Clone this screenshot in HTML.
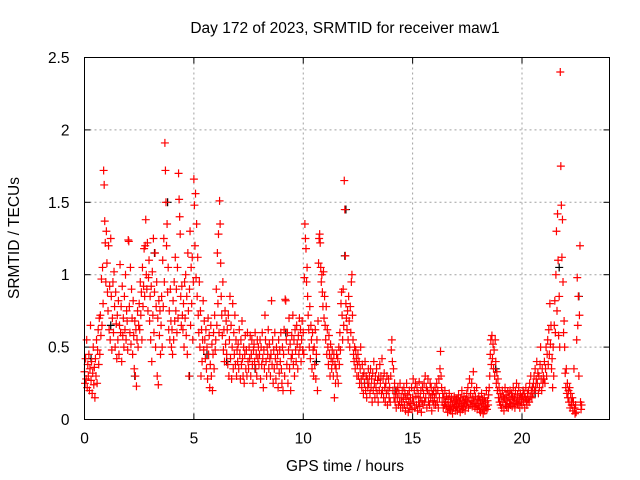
<!DOCTYPE html>
<html><head><meta charset="utf-8"><style>
body{margin:0;background:#fff}
svg{display:block;font-family:"Liberation Sans",sans-serif}
</style></head><body>
<svg id="chart" width="640" height="480" viewBox="0 0 640 480">
<rect width="640" height="480" fill="#fff"/>
<text x="345" y="33" font-size="15.5" text-anchor="middle">Day 172 of 2023, SRMTID for receiver maw1</text>
<g id="grid"></g><g id="ticks"></g>
<g id="blackPts"></g><g id="redPts"></g>
<rect x="84.5" y="57.5" width="525" height="362" fill="none" stroke="#000" stroke-width="1"/>
<text x="345" y="471" font-size="15.5" text-anchor="middle">GPS time / hours</text>
<text transform="translate(19,238) rotate(-90)" font-size="15.5" text-anchor="middle">SRMTID / TECUs</text>
</svg>
<script>
const xTicks=[0,5,10,15,20];
const yTicks=[0,0.5,1,1.5,2,2.5];
const yTickLabels=["0","0.5","1","1.5","2","2.5"];
const redStartHour=0;
const redStepHours=0.025;
const redValues=[
0.33,0.25,0.42,0.28,0.55,0.22,0.38,0.3,0.45,0.2,0.35,0.65,0.27,0.4,0.18,0.32,0.5,0.24,0.36,0.15,
0.42,0.3,0.55,0.25,0.48,0.62,0.38,0.7,0.45,0.72,0.58,0.97,0.65,1.05,0.8,1.72,1.62,1.37,1.22,0.95,
1.3,1.08,0.88,0.75,1.2,0.62,0.92,0.55,1.25,0.85,0.48,0.7,0.95,0.6,1.02,0.78,0.5,0.88,0.66,0.42,
0.72,0.55,0.82,0.45,0.65,1.07,0.6,0.78,0.4,0.92,0.58,0.7,0.5,0.85,0.62,1.0,0.55,0.75,0.68,0.48,
1.24,1.23,0.78,0.6,1.05,0.52,0.9,0.7,0.45,0.82,0.58,0.35,0.68,0.3,0.62,0.23,0.55,0.75,0.5,0.65,
0.8,0.62,0.95,0.72,0.88,0.55,1.05,0.78,0.92,1.18,0.85,1.2,1.38,1.0,0.9,1.22,0.75,0.98,1.1,0.68,
0.85,0.55,0.92,0.4,1.02,0.72,1.25,0.6,0.88,1.15,0.5,0.78,0.95,0.3,0.7,0.24,0.82,0.58,0.75,0.45,
0.65,0.85,0.5,1.1,0.78,1.25,0.95,1.91,1.72,1.5,1.2,1.35,0.88,1.05,0.62,0.75,0.55,0.9,0.68,0.5,
0.62,0.45,0.82,0.55,0.95,0.68,1.12,0.75,0.9,0.6,1.05,0.7,1.7,1.52,1.4,1.28,0.85,0.65,0.92,0.72,
0.62,0.8,0.5,0.95,0.7,1.0,0.58,0.85,0.45,1.15,0.75,0.3,0.9,1.3,0.65,1.05,0.8,1.12,0.55,0.95,
1.66,1.48,1.2,1.56,0.98,1.35,0.85,1.12,0.72,0.6,0.95,0.5,0.75,0.3,0.62,0.4,0.55,0.82,0.48,0.68,
0.55,0.42,0.62,0.35,0.5,0.28,0.7,0.45,0.58,0.22,0.38,0.65,0.3,0.52,0.2,0.45,0.6,0.35,0.72,0.48,
0.55,0.9,0.65,1.15,0.8,1.28,0.6,1.51,1.35,1.08,0.85,0.72,0.58,0.95,0.48,0.62,0.4,0.75,0.52,0.68,
0.45,0.62,0.38,0.72,0.3,0.55,0.85,0.42,0.65,0.28,0.5,0.8,0.35,0.6,0.45,0.72,0.38,0.55,0.3,0.48,
0.4,0.52,0.35,0.62,0.45,0.28,0.55,0.38,0.68,0.42,0.3,0.5,0.25,0.45,0.58,0.35,0.48,0.3,0.6,0.4,
0.35,0.5,0.42,0.58,0.3,0.45,0.55,0.38,0.25,0.48,0.52,0.4,0.6,0.35,0.45,0.3,0.55,0.42,0.5,0.38,
0.45,0.55,0.28,0.5,0.38,0.6,0.42,0.22,0.48,0.35,0.72,0.55,0.4,0.3,0.5,0.45,0.62,0.35,0.52,0.42,
0.3,0.45,0.82,0.38,0.55,0.25,0.48,0.35,0.6,0.42,0.28,0.5,0.38,0.45,0.22,0.55,0.32,0.48,0.4,0.6,
0.35,0.25,0.5,0.2,0.45,0.62,0.3,0.83,0.82,0.55,0.38,0.6,0.25,0.48,0.7,0.35,0.52,0.2,0.42,0.58,
0.45,0.72,0.38,0.55,0.3,0.62,0.48,0.4,0.65,0.52,0.35,0.58,0.45,0.7,0.5,0.62,0.4,0.55,0.68,0.48,
0.6,0.45,0.98,1.35,1.25,1.18,0.95,1.05,0.85,0.72,0.62,0.5,0.78,0.42,0.65,0.55,0.35,0.6,0.48,0.3,
0.5,0.38,0.62,0.28,0.45,0.55,0.2,0.68,1.08,1.25,1.28,1.22,1.05,0.95,1.0,0.88,0.78,1.02,0.7,0.85,
0.65,0.55,0.78,0.45,0.62,0.5,0.38,0.58,0.45,0.3,0.52,0.42,0.35,0.48,0.4,0.3,0.45,0.15,0.38,0.25,
0.35,0.45,0.3,0.42,0.25,0.5,0.38,0.6,0.48,0.8,0.88,0.72,0.55,0.9,0.65,1.65,1.45,1.13,0.8,0.7,
0.62,0.75,0.55,0.85,0.68,0.5,0.78,0.6,0.95,1.0,0.72,0.55,0.45,0.4,0.5,0.35,0.48,0.42,0.3,0.38,
0.45,0.3,0.4,0.25,0.35,0.5,0.28,0.22,0.38,0.3,0.18,0.32,0.25,0.4,0.2,0.3,0.15,0.28,0.22,0.35,
0.25,0.3,0.18,0.35,0.22,0.28,0.12,0.32,0.2,0.4,0.25,0.15,0.3,0.22,0.35,0.18,0.27,0.12,0.3,0.2,
0.38,0.25,0.3,0.18,0.42,0.2,0.28,0.15,0.32,0.22,0.12,0.25,0.18,0.3,0.1,0.2,0.28,0.15,0.22,0.12,
0.3,0.48,0.55,0.4,0.2,0.35,0.15,0.25,0.12,0.18,0.08,0.2,0.15,0.22,0.1,0.18,0.12,0.25,0.08,0.15,
0.12,0.2,0.08,0.15,0.22,0.1,0.18,0.06,0.14,0.25,0.1,0.17,0.05,0.12,0.2,0.08,0.15,0.11,0.22,0.07,
0.15,0.28,0.12,0.2,0.08,0.25,0.16,0.1,0.22,0.06,0.18,0.12,0.26,0.09,0.15,0.2,0.05,0.13,0.22,0.1,
0.18,0.25,0.12,0.3,0.15,0.22,0.08,0.2,0.28,0.12,0.18,0.1,0.25,0.15,0.22,0.06,0.17,0.13,0.2,0.1,
0.15,0.22,0.1,0.18,0.25,0.12,0.2,0.08,0.28,0.15,0.35,0.47,0.3,0.22,0.12,0.18,0.08,0.15,0.1,0.2,
0.12,0.08,0.16,0.1,0.05,0.14,0.09,0.18,0.07,0.12,0.06,0.15,0.1,0.04,0.12,0.08,0.16,0.1,0.06,0.13,
0.09,0.14,0.06,0.11,0.17,0.08,0.12,0.05,0.15,0.1,0.2,0.07,0.13,0.09,0.16,0.11,0.06,0.14,0.1,0.18,
0.12,0.22,0.08,0.15,0.28,0.1,0.18,0.13,0.25,0.09,0.15,0.33,0.12,0.2,0.08,0.16,0.11,0.22,0.07,0.14,
0.1,0.16,0.07,0.13,0.05,0.11,0.18,0.08,0.14,0.04,0.1,0.15,0.06,0.12,0.09,0.2,0.07,0.13,0.1,0.17,
0.22,0.3,0.45,0.55,0.38,0.58,0.42,0.52,0.35,0.48,0.3,0.55,0.4,0.25,0.33,0.2,0.28,0.15,0.22,0.12,
0.18,0.1,0.15,0.08,0.2,0.12,0.16,0.06,0.14,0.22,0.1,0.17,0.09,0.13,0.19,0.08,0.15,0.11,0.2,0.1,
0.14,0.18,0.09,0.16,0.22,0.12,0.15,0.08,0.2,0.13,0.25,0.11,0.17,0.1,0.22,0.14,0.08,0.18,0.12,0.15,
0.1,0.16,0.2,0.12,0.18,0.08,0.15,0.22,0.13,0.1,0.18,0.14,0.2,0.12,0.25,0.16,0.3,0.2,0.15,0.22,
0.18,0.25,0.3,0.2,0.35,0.22,0.28,0.4,0.25,0.32,0.18,0.3,0.22,0.38,0.5,0.28,0.2,0.35,0.25,0.3,
0.28,0.4,0.25,0.35,0.5,0.3,0.45,0.55,0.38,0.62,0.45,0.8,0.52,0.65,0.35,0.42,0.22,0.5,0.3,0.65,
0.82,0.6,1.0,1.3,0.75,1.42,1.1,0.58,0.85,0.5,2.4,1.75,1.48,1.12,1.38,0.95,0.6,0.68,0.5,0.32,
0.22,0.35,0.18,0.25,0.15,0.2,0.12,0.22,0.08,0.18,0.12,0.1,0.15,0.06,0.12,0.35,0.08,0.04,0.1,0.05,
0.55,0.98,0.65,0.85,0.3,0.72,1.2,0.12,0.07,0.1];
const redHours=redValues.map((v,i)=>redStartHour+i*redStepHours);
const blackHours=[0.3,1.2,2.3,3.2,3.8,4.8,5.6,6.5,7.8,9.2,10.6,11.9,11.95,12.8,14.2,16.5,18.8,20.6,21.7,22.6];
const blackValues=[0.42,0.65,0.3,1.15,1.5,0.3,0.45,0.4,0.35,0.6,0.4,1.13,1.45,0.25,0.2,0.12,0.35,0.18,1.05,0.85];
const X0=84.5,X1=609.5,Y0=419.5,Y1=57.5;
const xs=h=>X0+h/24*(X1-X0), ys=v=>Y0-v/2.5*(Y0-Y1);
const NS="http://www.w3.org/2000/svg";
const grid=document.getElementById('grid'),ticks=document.getElementById('ticks');
function mk(t,a,p){const e=document.createElementNS(NS,t);for(const k in a)e.setAttribute(k,a[k]);p.appendChild(e);return e;}
xTicks.forEach(t=>{const x=xs(t);
 if(t>0){const g=mk('line',{x1:x,x2:x,y1:Y1,y2:Y0,stroke:'#a0a0a0','stroke-dasharray':'2,3'},grid);
 
 }
 mk('line',{x1:x,x2:x,y1:Y0,y2:Y0-6,stroke:'#000'},ticks);mk('line',{x1:x,x2:x,y1:Y1,y2:Y1+6,stroke:'#000'},ticks);
 const l=mk('text',{x:x,y:Y0+24,'font-size':15.5,'text-anchor':'middle'},ticks);l.textContent=t;
 
 });
yTicks.forEach((t,i)=>{const y=ys(t);
 if(t>0&&t<2.5){const g=mk('line',{x1:X0,x2:X1,y1:y,y2:y,stroke:'#a0a0a0','stroke-dasharray':'2,3'},grid);
 
 }
 mk('line',{x1:X0,x2:X0+6,y1:y,y2:y,stroke:'#000'},ticks);mk('line',{x1:X1,x2:X1-6,y1:y,y2:y,stroke:'#000'},ticks);
 const l=mk('text',{x:X0-15,y:y+5.5,'font-size':15.5,'text-anchor':'end'},ticks);l.textContent=yTickLabels[i];
 
 });
function plot(hs,vs,id,col,name){let d='';hs.forEach((h,i)=>{const x=xs(h),y=ys(vs[i]);d+=`M${x-4} ${y}h8M${x} ${y-4}v8`;});
 const p=mk('path',{d:d,stroke:col,'stroke-width':1.2,fill:'none'},document.getElementById(id));
 
 }
plot(blackHours,blackValues,'blackPts','#000','black-series-points');
plot(redHours,redValues,'redPts','#ff0000','red-series-points');
</script>
</body></html>
